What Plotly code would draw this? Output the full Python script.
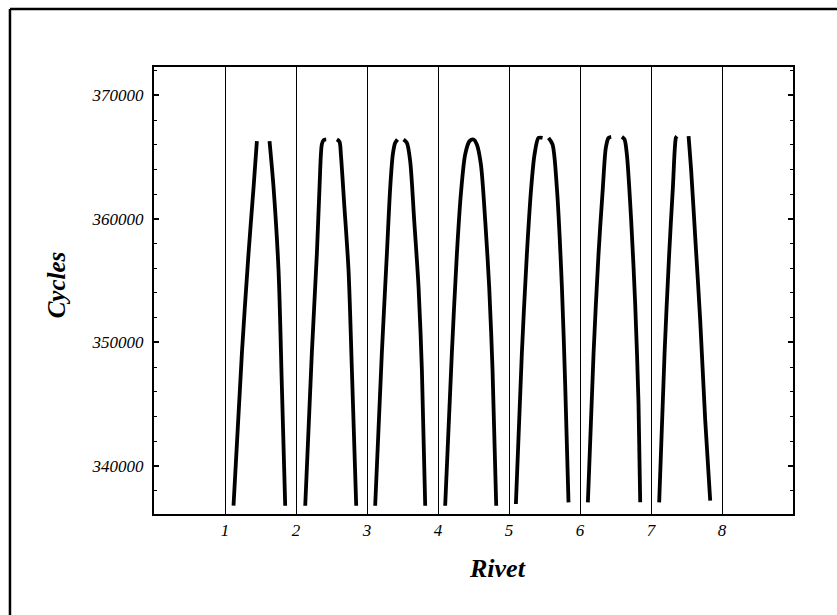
import plotly.graph_objects as go

# ---- data (Rivet position vs. Cycles); None separates the two branches
rivet1_x = [1.120, 1.238, 1.331, 1.402, 1.449, None, 1.627, 1.684, 1.754, 1.801, 1.848]
rivet1_y = [336771, 349122, 357174, 362536, 366296, None, 366296, 362536, 355829, 346433, 336771]

rivet2_x = [2.130, 2.223, 2.294, 2.331, 2.364, 2.388, 2.425, None, 2.576, 2.613, 2.632, 2.679, 2.740, 2.787, 2.848]
rivet2_y = [336771, 349122, 357174, 362536, 366031, 366377, 366433, None, 366433, 366240, 365225, 361200, 355829, 347778, 336771]

rivet3_x = [3.115, 3.209, 3.280, 3.327, 3.364, 3.397, 3.430, None, 3.515, 3.562, 3.608, 3.665, 3.726, 3.773, 3.820]
rivet3_y = [336771, 349122, 357174, 362536, 365225, 366159, 366433, None, 366433, 366159, 364686, 359855, 354485, 347778, 336771]

rivet4_x = [4.101, 4.195, 4.266, 4.322, 4.383, 4.444, 4.500, 4.547, 4.604, 4.665, 4.721, 4.768, 4.820]
rivet4_y = [336771, 349122, 357174, 362005, 365225, 366296, 366433, 366031, 364420, 359855, 354485, 347778, 336771]

rivet5_x = [5.097, 5.181, 5.252, 5.313, 5.360, 5.416, 5.472, None, 5.557, 5.613, 5.674, 5.745, 5.792, 5.838]
rivet5_y = [336908, 349122, 357174, 362536, 365225, 366562, 366562, None, 366562, 366031, 362536, 354485, 346433, 337045]

rivet6_x = [6.111, 6.191, 6.261, 6.322, 6.364, 6.402, 6.439, None, 6.590, 6.627, 6.660, 6.721, 6.777, 6.824, 6.848]
rivet6_y = [337045, 349122, 357174, 362536, 365757, 366562, 366643, None, 366643, 366433, 365225, 359855, 353148, 345097, 337045]

rivet7_x = [7.115, 7.191, 7.256, 7.308, 7.350, 7.364, None, 7.529, 7.566, 7.623, 7.693, 7.763, 7.834]
rivet7_y = [337045, 349122, 357174, 362536, 366562, 366699, None, 366699, 363881, 358511, 351804, 343752, 337174]

x_ticks = [1, 2, 3, 4, 5, 6, 7, 8]
x_labels = ["1", "2", "3", "4", "5", "6", "7", "8"]
y_ticks = [340000, 350000, 360000, 370000]
y_labels = ["340000", "350000", "360000", "370000"]

series = [
    (rivet1_x, rivet1_y), (rivet2_x, rivet2_y), (rivet3_x, rivet3_y), (rivet4_x, rivet4_y),
    (rivet5_x, rivet5_y), (rivet6_x, rivet6_y), (rivet7_x, rivet7_y),
]

fig = go.Figure()
for xs, ys in series:
    fig.add_trace(go.Scatter(
        x=xs, y=ys, mode="lines", connectgaps=False,
        line=dict(color="black", width=3.8, shape="spline", smoothing=0.8),
        showlegend=False, hoverinfo="skip",
    ))

serif = "Liberation Serif, Times New Roman, serif"

fig.update_layout(
    width=837, height=615,
    margin=dict(l=154, r=44, t=67, b=101),
    paper_bgcolor="white", plot_bgcolor="white",
    showlegend=False,
    xaxis=dict(
        range=[0, 9], tickvals=x_ticks, ticktext=x_labels,
        showgrid=True, gridcolor="black", gridwidth=1,
        zeroline=False, showline=True, linecolor="black", linewidth=2, mirror=True,
        ticks="", tickfont=dict(family=serif, size=17, color="black", style="italic"),
    ),
    yaxis=dict(
        range=[336100, 372300], tickvals=y_ticks, ticktext=y_labels,
        showgrid=False, zeroline=False,
        showline=True, linecolor="black", linewidth=2, mirror="ticks",
        ticks="inside", ticklen=5, tickwidth=1.5, tickcolor="black",
        minor=dict(dtick=2000, ticks="inside", ticklen=3, tickwidth=1, tickcolor="black", showgrid=False),
        tickfont=dict(family=serif, size=17, color="black", style="italic"),
        ticklabelstandoff=5,
    ),
    annotations=[
        dict(text="Rivet", xref="paper", yref="paper", x=0.538, y=-0.123,
             showarrow=False, xanchor="center", yanchor="middle",
             font=dict(family=serif, size=26, color="black", weight="bold", style="italic")),
        dict(text="Cycles", xref="paper", yref="paper", x=-0.153, y=0.512,
             showarrow=False, xanchor="center", yanchor="middle", textangle=-90,
             font=dict(family=serif, size=25, color="black", weight="bold", style="italic")),
    ],
    shapes=[
        dict(type="line", xref="paper", yref="paper", x0=-0.2254, x1=-0.2254, y0=-0.3, y1=1.1298,
             line=dict(color="black", width=2.5)),
        dict(type="line", xref="paper", yref="paper", x0=-0.2254, x1=1.2, y0=1.1298, y1=1.1298,
             line=dict(color="black", width=2.5)),
    ],
)

fig.write_html("out.html")
